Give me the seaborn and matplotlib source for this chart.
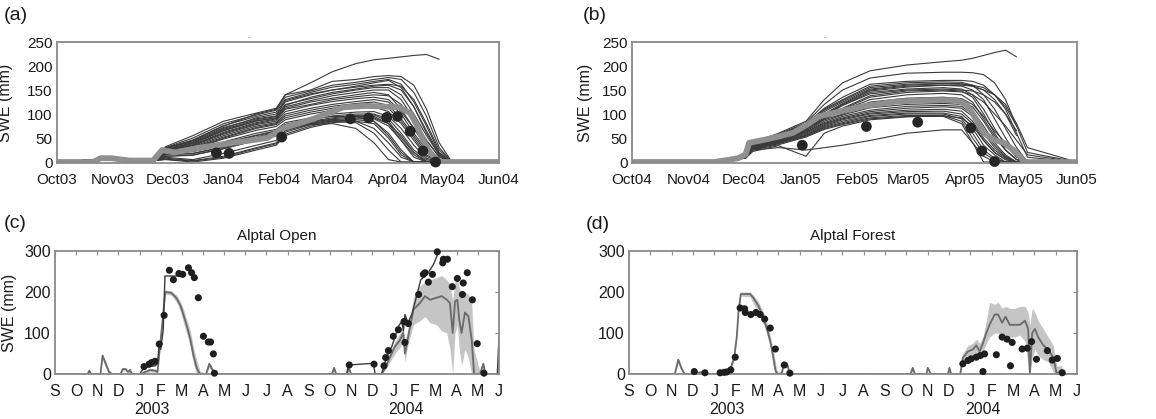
import numpy as np
import pandas as pd
import matplotlib
matplotlib.use("Agg")
import matplotlib.pyplot as plt
import matplotlib.transforms as mtransforms
import seaborn as sns

# ---------------- data: panel (a) winter 2003/04 (days since 1 Oct 2003) ----------------
a_days = [0, 22, 30, 42, 54, 60, 75, 92, 110, 121, 126, 140, 152, 165, 175, 183, 190, 197, 204, 211, 218, 244]
nan = np.nan
a_members = [
    [0, 5, 7, 4, 3, 30, 45, 75, 100, 110, 140, 165, 188, 205, 213, 216, 219, 222, 224, 214, nan, nan],
    [0, 5, 7, 4, 3, 32, 55, 85, 102, 112, 140, 150, 168, 172, 178, 180, 178, 160, 110, 40, 0, 0],
    [0, 5, 7, 4, 3, 30, 50, 80, 98, 108, 135, 148, 160, 166, 172, 176, 172, 145, 95, 30, 0, 0],
    [0, 5, 7, 4, 3, 28, 46, 76, 95, 104, 130, 145, 156, 162, 168, 172, 162, 125, 75, 20, 0, 0],
    [0, 5, 7, 4, 3, 30, 42, 70, 92, 100, 125, 140, 150, 158, 165, 170, 155, 115, 60, 15, 0, 0],
    [0, 5, 7, 4, 3, 27, 40, 68, 88, 95, 120, 132, 142, 150, 155, 155, 140, 100, 55, 15, 0, 0],
    [0, 5, 7, 4, 3, 25, 38, 65, 85, 92, 115, 128, 138, 145, 150, 150, 130, 90, 45, 10, 0, 0],
    [0, 5, 7, 4, 3, 26, 36, 62, 82, 90, 112, 125, 133, 140, 145, 140, 110, 70, 35, 5, 0, 0],
    [0, 5, 7, 4, 3, 24, 35, 60, 80, 88, 110, 120, 130, 136, 140, 138, 120, 85, 45, 12, 0, 0],
    [0, 5, 7, 4, 3, 24, 34, 58, 78, 85, 105, 118, 126, 132, 135, 130, 105, 70, 30, 5, 0, 0],
    [0, 5, 7, 4, 3, 22, 32, 55, 75, 82, 100, 112, 120, 126, 130, 125, 100, 60, 25, 3, 0, 0],
    [0, 5, 7, 4, 3, 22, 30, 52, 72, 80, 96, 108, 116, 122, 125, 118, 90, 55, 20, 0, 0, 0],
    [0, 5, 7, 4, 3, 20, 28, 50, 70, 78, 92, 104, 112, 118, 120, 112, 85, 50, 15, 0, 0, 0],
    [0, 5, 7, 4, 3, 20, 27, 48, 66, 74, 88, 100, 108, 113, 115, 105, 80, 45, 12, 0, 0, 0],
    [0, 5, 7, 4, 3, 18, 25, 42, 60, 68, 82, 92, 100, 104, 105, 95, 70, 35, 8, 0, 0, 0],
    [0, 5, 7, 4, 3, 18, 22, 38, 55, 64, 78, 88, 96, 100, 100, 90, 60, 25, 5, 0, 0, 0],
    [0, 5, 7, 4, 3, 15, 18, 32, 50, 60, 74, 85, 92, 97, 98, 85, 50, 20, 0, 0, 0, 0],
    [0, 5, 7, 4, 3, 12, 14, 28, 45, 55, 70, 82, 90, 95, 95, 80, 45, 15, 0, 0, 0, 0],
    [0, 5, 7, 4, 3, 10, 5, 18, 35, 45, 65, 80, 88, 92, 92, 80, 55, 20, 2, 0, 0, 0],
    [0, 5, 7, 4, 3, 8, 3, 12, 30, 40, 62, 78, 86, 90, 90, 75, 45, 10, 0, 0, 0, 0],
    [0, 5, 7, 4, 3, 6, 2, 10, 28, 38, 58, 75, 84, 88, 85, 60, 25, 0, 0, 0, 0, 0],
    [0, 5, 7, 4, 3, 5, 0, 8, 25, 35, 55, 72, 82, 85, 80, 50, 15, 0, 0, 0, 0, 0],
    [0, 5, 7, 4, 3, 15, 18, 30, 48, 58, 70, 80, 85, 82, 60, 25, 0, 0, 0, 0, 0, 0],
    [0, 5, 7, 4, 3, 12, 15, 28, 45, 55, 68, 78, 80, 70, 40, 5, 0, 0, 0, 0, 0, 0],
    [0, 5, 7, 4, 3, 18, 22, 35, 52, 62, 75, 85, 88, 85, 70, 40, 10, 0, 0, 0, 0, 0],
    [0, 5, 7, 4, 3, 20, 25, 40, 56, 65, 78, 90, 95, 95, 85, 55, 20, 0, 0, 0, 0, 0],
    [0, 5, 7, 4, 3, 28, 44, 72, 90, 96, 128, 142, 150, 156, 160, 162, 158, 130, 80, 25, 0, 0],
    [0, 5, 7, 4, 3, 26, 40, 66, 86, 92, 118, 135, 145, 152, 158, 160, 150, 115, 65, 18, 0, 0],
]
a_mean_days = [0, 20, 24, 30, 40, 53, 58, 65, 79, 97, 116, 121, 125, 134, 143, 152, 158, 171, 189, 195, 198, 202, 206, 210, 212, 244]
a_mean = [0, 0, 8, 8, 3, 3, 25, 20, 30, 40, 50, 61, 71, 81, 92, 105, 114, 117, 114, 102, 81, 47, 19, 5, 0, 0]
a_obs_days = [88, 95, 124, 162, 172, 182, 188, 195, 202, 209]
a_obs = [19, 18, 52, 90, 92, 93, 95, 64, 23, 0]
a_tick_days = [0, 31, 61, 92, 123, 152, 183, 213, 244]
a_tick_labels = ["Oct03", "Nov03", "Dec03", "Jan04", "Feb04", "Mar04", "Apr04", "May04", "Jun04"]

# ---------------- data: panel (b) winter 2004/05 (days since 1 Oct 2004) ----------------
b_days = [0, 30, 45, 55, 62, 66, 80, 95, 105, 115, 130, 150, 170, 180, 186, 192, 198, 204, 210, 216, 243]
b_members = [
    [0, 0, 2, 5, 15, 40, 60, 85, 130, 165, 190, 202, 209, 212, 216, 222, 228, 233, 219, nan, nan],
    [0, 0, 2, 5, 14, 42, 58, 82, 120, 150, 175, 185, 187, 187, 186, 182, 165, 130, 75, nan, nan],
    [0, 0, 2, 5, 14, 40, 56, 80, 112, 135, 162, 168, 170, 170, 168, 160, 140, 110, 60, 10, 0],
    [0, 0, 2, 5, 13, 38, 55, 78, 110, 130, 158, 165, 167, 166, 160, 140, 110, 70, 30, 0, 0],
    [0, 0, 2, 5, 13, 38, 54, 76, 105, 125, 152, 160, 163, 162, 158, 150, 130, 100, 55, nan, nan],
    [0, 0, 2, 5, 12, 36, 52, 75, 100, 120, 148, 156, 160, 158, 150, 130, 90, 50, 15, 0, 0],
    [0, 0, 2, 5, 12, 35, 50, 74, 98, 118, 145, 152, 155, 152, 140, 110, 70, 35, 10, 0, 0],
    [0, 0, 2, 5, 12, 35, 48, 72, 95, 112, 138, 148, 150, 148, 135, 100, 60, 25, 5, 0, 0],
    [0, 0, 2, 5, 11, 34, 47, 70, 92, 108, 130, 140, 143, 140, 125, 90, 55, 25, 5, 0, 0],
    [0, 0, 2, 5, 11, 33, 46, 68, 90, 105, 125, 133, 135, 132, 120, 95, 65, 40, 15, 0, 0],
    [0, 0, 2, 5, 11, 32, 45, 66, 88, 100, 118, 126, 128, 126, 115, 85, 50, 25, 5, 0, 0],
    [0, 0, 2, 5, 10, 31, 44, 65, 85, 98, 113, 120, 122, 120, 108, 75, 40, 15, 0, 0, 0],
    [0, 0, 2, 5, 10, 30, 43, 63, 82, 95, 108, 116, 118, 116, 100, 65, 35, 12, 0, 0, 0],
    [0, 0, 2, 5, 10, 30, 42, 62, 80, 92, 105, 112, 115, 112, 95, 60, 30, 10, 0, 0, 0],
    [0, 0, 2, 5, 10, 29, 42, 60, 78, 90, 102, 108, 110, 106, 85, 50, 25, 8, 0, 0, 0],
    [0, 0, 2, 5, 9, 28, 41, 58, 76, 88, 100, 105, 106, 100, 80, 45, 20, 5, 0, 0, 0],
    [0, 0, 2, 5, 9, 28, 40, 56, 74, 85, 97, 102, 102, 95, 70, 35, 15, 0, 0, 0, 0],
    [0, 0, 2, 5, 9, 27, 39, 55, 72, 82, 95, 100, 100, 90, 60, 25, 8, 0, 0, 0, 0],
    [0, 0, 2, 5, 8, 26, 38, 54, 70, 80, 92, 97, 97, 85, 50, 18, 5, 0, 0, 0, 0],
    [0, 0, 2, 5, 8, 25, 36, 52, 68, 78, 90, 95, 95, 80, 40, 12, 0, 0, 0, 0, 0],
    [0, 0, 2, 5, 8, 25, 30, 25, 30, 35, 45, 60, 67, 67, 40, 0, 0, 0, 0, 0, 0],
    [0, 0, 2, 5, 8, 22, 34, 12, 60, 75, 88, 94, 96, 92, 75, 45, 20, 5, 0, 0, 0],
    [0, 0, 2, 5, 12, 36, 52, 76, 100, 122, 150, 158, 160, 160, 158, 150, 140, 120, 80, 30, 0],
    [0, 0, 2, 5, 11, 34, 50, 74, 96, 118, 142, 150, 152, 150, 148, 140, 125, 100, 65, nan, nan],
    [0, 3, 2, 5, 10, 32, 46, 70, 90, 110, 135, 145, 148, 146, 140, 125, 100, 75, 45, 15, 0],
    [0, 0, 2, 5, 12, 38, 55, 80, 108, 128, 155, 162, 164, 163, 160, 155, 140, 115, 75, 20, 0],
]
b_mean_days = [0, 45, 50, 58, 62, 64, 73, 81, 88, 97, 102, 113, 126, 144, 162, 177, 183, 188, 192, 197, 203, 208, 212, 214, 243]
b_mean = [0, 0, 3, 8, 16, 40, 47, 54, 61, 81, 95, 105, 116, 126, 129, 129, 119, 88, 61, 47, 40, 26, 12, 0, 0]
b_obs_days = [93, 128, 156, 185, 191, 198]
b_obs = [35, 74, 83, 71, 23, 1]
b_tick_days = [0, 31, 61, 92, 123, 151, 182, 212, 243]
b_tick_labels = ["Oct04", "Nov04", "Dec04", "Jan05", "Feb05", "Mar05", "Apr05", "May05", "Jun05"]

# ---------------- data: panels (c)/(d) (months since 1 Sep 2002) ----------------
month_letters = ["S", "O", "N", "D", "J", "F", "M", "A", "M", "J", "J",
                 "A", "S", "O", "N", "D", "J", "F", "M", "A", "M", "J"]
year_labels = ["2003", "2004"]
year_pos = [4.6, 16.6]

# (t, model mean, band low, band high)
c_model = [
    (0, 0, 0, 0), (1.55, 0, 0, 0), (1.62, 8, 3, 10), (1.7, 0, 0, 0), (2.15, 0, 0, 2),
    (2.25, 45, 35, 48), (2.4, 25, 15, 32), (2.55, 5, 0, 10), (2.7, 0, 0, 2), (3.1, 0, 0, 0),
    (3.2, 12, 8, 15), (3.35, 12, 8, 15), (3.45, 5, 2, 8), (3.55, 10, 5, 12), (3.65, 0, 0, 2),
    (4.1, 0, 0, 0), (4.25, 5, 2, 8), (4.5, 10, 5, 12), (4.75, 8, 4, 12), (4.85, 5, 2, 10),
    (4.95, 60, 55, 65), (5.05, 110, 105, 115), (5.15, 165, 160, 170), (5.22, 200, 195, 205),
    (5.5, 198, 192, 203), (5.75, 185, 175, 192), (5.95, 165, 150, 175), (6.1, 140, 120, 155),
    (6.25, 115, 95, 130), (6.4, 85, 65, 105), (6.55, 45, 25, 65), (6.7, 15, 0, 35),
    (6.85, 0, 0, 8), (7.15, 0, 0, 0), (7.3, 25, 15, 28), (7.45, 10, 5, 15), (7.6, 0, 0, 0),
    (13.1, 0, 0, 0), (13.2, 15, 8, 18), (13.3, 0, 0, 0), (13.8, 0, 0, 0), (13.9, 15, 8, 18),
    (14.0, 0, 0, 0), (15.45, 0, 0, 0), (15.6, 14, 8, 20), (15.85, 42, 30, 55), (16.08, 67, 50, 80),
    (16.32, 83, 65, 100), (16.47, 100, 80, 115), (16.55, 50, 30, 80), (16.71, 92, 75, 115),
    (16.95, 157, 120, 185), (17.26, 173, 130, 215), (17.5, 190, 140, 225), (17.74, 181, 125, 230),
    (18.05, 186, 120, 235), (18.29, 190, 105, 240), (18.53, 181, 100, 230), (18.68, 173, 60, 220),
    (18.81, 100, 0, 180), (18.92, 177, 100, 225), (19.03, 181, 120, 235), (19.12, 132, 60, 210),
    (19.23, 100, 20, 190), (19.39, 150, 60, 200), (19.55, 141, 40, 195), (19.71, 83, 0, 170),
    (19.82, 0, 0, 60), (20.1, 0, 0, 5), (20.26, 25, 10, 30), (20.36, 0, 0, 0), (21.0, 0, 0, 0),
]
c_dark = [
    [(4.0, 0), (4.2, 14), (4.45, 18), (4.73, 20), (4.85, 25), (4.93, 75), (5.0, 60),
     (5.12, 108), (5.2, 239), (5.76, 239)],
    [(13.0, 0), (13.8, 0), (13.87, 22), (15.06, 26), (15.14, 0), (15.45, 0), (15.53, 18),
     (15.7, 42), (15.93, 67), (16.09, 92), (16.24, 116), (16.4, 128), (16.48, 105), (16.55, 145),
     (16.7, 125), (16.9, 149), (17.1, 190), (17.3, 230), (17.6, 243), (17.75, 255), (17.9, 267),
     (18.1, 292), (18.25, 300), (18.4, 320)],
    [(20.92, 0), (21.0, 90)],
]
c_obs_t = [4.21, 4.45, 4.57, 4.73, 4.93, 5.16, 5.41, 5.6, 5.86, 6.04, 6.31, 6.46, 6.59, 6.78,
           7.02, 7.25, 7.36, 7.49, 7.54,
           13.92, 15.09, 15.56, 15.64, 15.77, 16.0, 16.24, 16.51, 16.55, 16.71, 17.2, 17.42,
           17.5, 17.66, 17.85, 18.08, 18.34, 18.37, 18.56, 18.79, 19.03, 19.27, 19.31, 19.5,
           19.74, 19.97, 20.29]
c_obs = [18, 24, 28, 31, 73, 143, 253, 230, 245, 243, 259, 247, 235, 186,
         92, 78, 78, 49, 2,
         22, 24, 20, 40, 57, 92, 108, 128, 77, 123, 194, 243,
         247, 224, 243, 298, 271, 280, 280, 213, 233, 194, 222, 247,
         181, 74, 2]

d_model = [
    (0, 0, 0, 0), (2.15, 0, 0, 0), (2.31, 35, 28, 38), (2.45, 15, 8, 20), (2.6, 0, 0, 3),
    (3.0, 0, 0, 2), (3.05, 8, 4, 10), (3.2, 3, 0, 6), (3.5, 5, 2, 10), (3.6, 0, 0, 2),
    (4.2, 0, 0, 0), (4.5, 3, 0, 5), (4.74, 10, 5, 14), (4.93, 40, 35, 45), (5.05, 90, 85, 95),
    (5.13, 150, 145, 155), (5.24, 195, 190, 200), (5.68, 195, 188, 200), (5.84, 185, 170, 192),
    (6.08, 165, 150, 175), (6.31, 135, 120, 150), (6.47, 110, 95, 125), (6.62, 80, 65, 95),
    (6.75, 45, 25, 60), (6.86, 10, 0, 30), (6.94, 0, 0, 8), (7.15, 0, 0, 5), (7.25, 22, 15, 28),
    (7.41, 25, 18, 30), (7.54, 0, 0, 3), (13.2, 0, 0, 0), (13.3, 15, 8, 18), (13.4, 0, 0, 0),
    (13.95, 0, 0, 0), (14.0, 15, 10, 18), (14.15, 0, 0, 3), (14.95, 0, 0, 0), (15.02, 15, 8, 18),
    (15.1, 0, 0, 0), (15.53, 0, 0, 5), (15.65, 40, 30, 50), (15.89, 55, 40, 70), (16.12, 60, 45, 75),
    (16.28, 70, 50, 85), (16.44, 55, 40, 75), (16.59, 75, 55, 90), (16.75, 100, 75, 130),
    (16.9, 120, 90, 175), (17.14, 145, 100, 170), (17.3, 145, 100, 175), (17.49, 125, 90, 160),
    (17.65, 140, 95, 165), (17.85, 120, 90, 160), (18.08, 120, 90, 160), (18.32, 120, 95, 165),
    (18.56, 130, 80, 165), (18.71, 110, 20, 150), (18.79, 0, 0, 120), (18.9, 100, 40, 160),
    (19.03, 110, 60, 150), (19.18, 90, 45, 130), (19.42, 70, 35, 110), (19.65, 60, 30, 90),
    (19.89, 40, 5, 70), (20.05, 0, 0, 20), (20.28, 10, 0, 20), (20.36, 0, 0, 0), (21.0, 0, 0, 0),
]
d_obs_t = [3.06, 3.56, 4.27, 4.46, 4.58, 4.77, 4.98, 5.21, 5.42, 5.45, 5.71, 5.95, 6.15, 6.36,
           6.62, 6.86, 7.28, 7.54,
           15.65, 15.89, 16.04, 16.28, 16.47, 16.59, 16.67, 17.22, 17.49, 17.72, 17.96, 17.88,
           18.43, 18.67, 18.87, 19.1, 19.61, 19.84, 20.08, 20.31]
d_obs = [6, 3, 3, 4, 5, 10, 41, 161, 159, 150, 145, 150, 145, 134,
         112, 61, 22, 2,
         25, 33, 37, 41, 45, 6, 49, 47, 90, 85, 77, 20,
         61, 63, 79, 36, 57, 34, 38, 3]

# ---------------- styling ----------------
sns.set_theme(style="white")
plt.rcParams["font.family"] = ["Liberation Sans", "DejaVu Sans"]
SPINE = "#8a8a8a"
TXT = "#1a1a1a"

W, H = 1156, 419
fig = plt.figure(figsize=(W / 100, H / 100), dpi=100)


def px_axes(l, t, r, b):
    return fig.add_axes([l / W, 1 - b / H, (r - l) / W, (b - t) / H])


def style_spines(ax):
    for s in ax.spines.values():
        s.set_color(SPINE)
        s.set_linewidth(1.3)


def top_panel(ax, days, members, mean_days, mean_vals, obs_days, obs_vals,
              tick_days, tick_labels, xmax, ylab_x):
    rows = []
    for i, m in enumerate(members):
        for d, v in zip(days, m):
            rows.append((i, d, v))
    df = pd.DataFrame(rows, columns=["member", "day", "swe"]).dropna()
    sns.lineplot(data=df, x="day", y="swe", units="member", estimator=None,
                 color="#3a3a3a", lw=0.8, ax=ax, legend=False)
    sns.lineplot(x=mean_days, y=mean_vals, color="#8f8f8f", lw=4.2, ax=ax,
                 solid_capstyle="round")
    sns.scatterplot(x=obs_days, y=obs_vals, color="#262626", s=60, edgecolor="none",
                    ax=ax, zorder=5, clip_on=False)
    ax.set_xlim(0, xmax)
    ax.set_ylim(-2, 250)
    ax.set_yticks([0, 50, 100, 150, 200, 250])
    ax.set_xticks(tick_days)
    ax.set_xticklabels(tick_labels)
    ax.tick_params(axis="both", length=0, labelsize=11, colors=TXT)
    ax.tick_params(axis="x", pad=7)
    ax.tick_params(axis="y", pad=3)
    ax.set_xlabel("")
    ax.set_ylabel("SWE (mm)", fontsize=11.5, color=TXT)
    ax.yaxis.set_label_coords(ylab_x, 0.5)
    ax.text(0.435, 1.02, "..", transform=ax.transAxes, fontsize=5, color="#777777",
            ha="center", va="bottom")
    style_spines(ax)


def bottom_panel(ax, model, dark, obs_t, obs_v, title, ylabel, ylab_x):
    df = pd.DataFrame(model, columns=["t", "mean", "lo", "hi"])
    ax.fill_between(df["t"], df["lo"], df["hi"], color="#c5c5c5", lw=0)
    sns.lineplot(data=df, x="t", y="mean", color="#6a6a6a", lw=1.3, ax=ax)
    for seg in dark:
        sdf = pd.DataFrame(seg, columns=["t", "v"])
        sns.lineplot(data=sdf, x="t", y="v", color="#3a3a3a", lw=1.0, ax=ax)
    sns.scatterplot(x=obs_t, y=obs_v, color="#1e1e1e", s=26, edgecolor="none",
                    ax=ax, zorder=5, clip_on=False)
    ax.set_xlim(0, 21)
    ax.set_ylim(0, 300)
    ax.set_yticks([0, 100, 200, 300])
    ax.set_xticks(range(22))
    ax.set_xticklabels(month_letters)
    ax.tick_params(axis="both", direction="in", length=3, width=0.8, color=SPINE,
                   labelsize=11.5, labelcolor=TXT, top=True, right=True)
    ax.tick_params(axis="x", pad=7)
    ax.tick_params(axis="y", pad=3)
    ax.set_xlabel("")
    ax.set_ylabel(ylabel, fontsize=11.5, color=TXT)
    if ylabel:
        ax.yaxis.set_label_coords(ylab_x, 0.5)
    ax.set_title(title, fontsize=11, color=TXT, pad=8)
    trans = mtransforms.blended_transform_factory(ax.transData, ax.transAxes)
    for yl, xp in zip(year_labels, year_pos):
        ax.text(xp, -0.29, yl, transform=trans, ha="center", va="center",
                fontsize=11.5, color=TXT)
    style_spines(ax)


ax_a = px_axes(57, 42, 499, 163)
ax_b = px_axes(632, 42, 1077, 163)
ax_c = px_axes(55, 251, 499, 374)
ax_d = px_axes(629, 251, 1077, 374)

top_panel(ax_a, a_days, a_members, a_mean_days, a_mean, a_obs_days, a_obs,
          a_tick_days, a_tick_labels, 244, -0.10)
top_panel(ax_b, b_days, b_members, b_mean_days, b_mean, b_obs_days, b_obs,
          b_tick_days, b_tick_labels, 243, -0.088)
bottom_panel(ax_c, c_model, c_dark, c_obs_t, c_obs, "Alptal Open", "SWE (mm)", -0.086)
bottom_panel(ax_d, d_model, [], d_obs_t, d_obs, "Alptal Forest", "", 0)

for lab, x, y in [("(a)", 4, 15), ("(b)", 583, 15), ("(c)", 4, 223), ("(d)", 586, 224)]:
    fig.text(x / W, 1 - y / H, lab, fontsize=14, color=TXT, ha="left", va="center")

fig.savefig("out.png", dpi=100)
